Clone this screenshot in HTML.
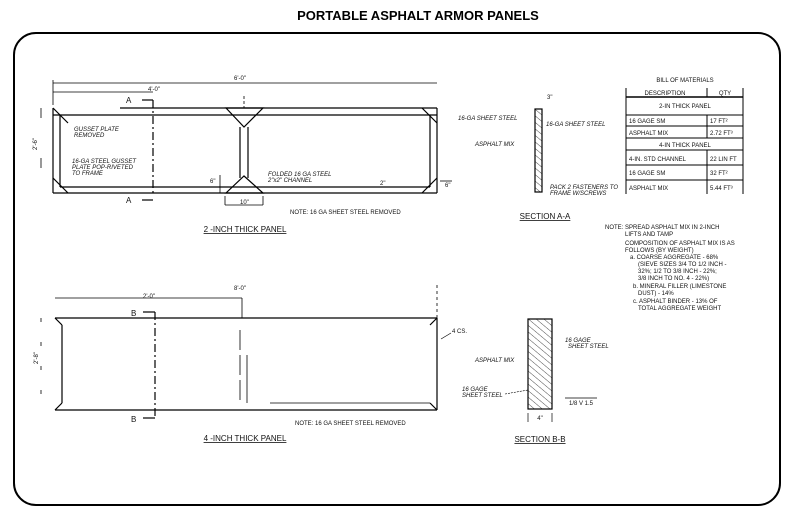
<!DOCTYPE html>
<html><head><meta charset="utf-8"><style>
html,body{margin:0;padding:0;background:#fff;}
svg{display:block;font-family:"Liberation Sans",sans-serif;}
.s{font-size:6px;fill:#111}
.i{font-size:6px;font-style:italic;fill:#111}
.l{font-size:8px;fill:#111}
</style></head><body>
<svg width="793" height="531" viewBox="0 0 793 531" xmlns="http://www.w3.org/2000/svg">
<defs>
<pattern id="h" width="5" height="5" patternUnits="userSpaceOnUse" patternTransform="rotate(-50)">
<line x1="0" y1="0" x2="0" y2="5" stroke="#000" stroke-width="0.7"/></pattern>
</defs>
<text x="418" y="20" text-anchor="middle" font-size="13" font-weight="bold">PORTABLE ASPHALT ARMOR PANELS</text>
<rect x="14" y="33" width="766" height="472" rx="22" fill="none" stroke="#000" stroke-width="2"/>

<!-- Top panel -->
<g stroke="#000" fill="none" stroke-width="1.2">
<line x1="120" y1="108" x2="437" y2="108"/>
<line x1="53" y1="115" x2="437" y2="115"/>
<line x1="53" y1="193" x2="437" y2="193"/>
<line x1="53" y1="108" x2="53" y2="193"/>
<line x1="60" y1="115" x2="60" y2="187"/>
<line x1="437" y1="108" x2="437" y2="193"/>
<line x1="430" y1="115" x2="430" y2="187"/>
<line x1="60" y1="187" x2="430" y2="187"/>
<line x1="240" y1="127" x2="240" y2="178"/>
<line x1="248" y1="127" x2="248" y2="178"/>
<polygon points="226,108 263,108 244,127"/>
<polygon points="226,193 263,193 244,176"/>
<line x1="53" y1="108" x2="68" y2="123"/>
<line x1="53" y1="178" x2="68" y2="193"/>
<line x1="422" y1="108" x2="437" y2="123"/>
<line x1="437" y1="178" x2="422" y2="193"/>
<line x1="153" y1="100" x2="153" y2="196" stroke-dasharray="8,3,2,3"/>
<line x1="142" y1="100" x2="153" y2="100"/>
<line x1="142" y1="200" x2="153" y2="200"/>
<line x1="53" y1="83" x2="437" y2="83" stroke-width="0.8"/>
<line x1="53" y1="92" x2="153" y2="92" stroke-width="0.8"/>
<line x1="53" y1="80" x2="53" y2="105" stroke-width="0.8"/>
<line x1="244" y1="96" x2="244" y2="108" stroke-dasharray="3,2" stroke-width="0.8"/>
<line x1="41" y1="108" x2="41" y2="193" stroke-width="0.8" stroke-dasharray="10,40"/>
<line x1="225" y1="196" x2="225" y2="205" stroke-width="0.8"/>
<line x1="263" y1="196" x2="263" y2="205" stroke-width="0.8"/>
<line x1="225" y1="205" x2="263" y2="205" stroke-width="0.8"/>
<line x1="220" y1="175" x2="220" y2="193" stroke-width="0.8"/>
<line x1="440" y1="181" x2="452" y2="181" stroke-width="0.8"/>
</g>
<text x="126" y="103" class="l">A</text><text x="126" y="203" class="l">A</text>
<text x="240" y="80" class="s" text-anchor="middle">6'-0"</text>
<text x="148" y="91" class="s">4'-0"</text>
<text x="37" y="150" class="s" transform="rotate(-90 37 150)">2'-6"</text>
<text x="74" y="131" class="i">GUSSET PLATE</text><text x="74" y="137" class="i">REMOVED</text>
<text x="72" y="163" class="i">16-GA STEEL GUSSET</text><text x="72" y="169" class="i">PLATE POP-RIVETED</text><text x="72" y="175" class="i">TO FRAME</text>
<text x="210" y="183" class="s">6"</text><text x="240" y="204" class="s">10"</text>
<text x="268" y="176" class="i">FOLDED 16 GA STEEL</text><text x="268" y="182" class="i">2"x2" CHANNEL</text>
<text x="380" y="185" class="s">2"</text><text x="445" y="187" class="s">6"</text>
<text x="290" y="214" class="s">NOTE: 16 GA SHEET STEEL REMOVED</text>
<text x="245" y="232" class="l" text-anchor="middle" text-decoration="underline">2 -INCH THICK PANEL</text>

<!-- Section A-A -->
<rect x="535" y="109" width="7" height="83" fill="url(#h)" stroke="#000" stroke-width="1.2"/>
<text x="547" y="99" class="s">3"</text>
<text x="458" y="120" class="i">16-GA SHEET STEEL</text>
<text x="546" y="126" class="i">16-GA SHEET STEEL</text>
<text x="475" y="146" class="i">ASPHALT MIX</text>
<text x="550" y="189" class="i">PACK 2 FASTENERS TO</text><text x="550" y="195" class="i">FRAME W/SCREWS</text>
<text x="545" y="219" class="l" text-anchor="middle" text-decoration="underline">SECTION A-A</text>

<!-- Table -->
<g stroke="#000" stroke-width="1" fill="none">
<line x1="626" y1="88" x2="626" y2="194"/><line x1="743" y1="88" x2="743" y2="194"/>
<line x1="707" y1="88" x2="707" y2="97"/><line x1="707" y1="115" x2="707" y2="138"/><line x1="707" y1="150" x2="707" y2="194"/>
<line x1="626" y1="97" x2="743" y2="97" stroke-width="1.6"/>
<line x1="626" y1="115" x2="743" y2="115"/><line x1="626" y1="126" x2="743" y2="126"/>
<line x1="626" y1="138" x2="743" y2="138"/><line x1="626" y1="150" x2="743" y2="150"/>
<line x1="626" y1="165" x2="743" y2="165"/><line x1="626" y1="180" x2="743" y2="180"/>
</g>
<text x="685" y="82" class="s" text-anchor="middle">BILL OF MATERIALS</text>
<text x="665" y="95" class="s" text-anchor="middle">DESCRIPTION</text><text x="725" y="95" class="s" text-anchor="middle">QTY</text>
<text x="685" y="108" class="s" text-anchor="middle">2-IN THICK PANEL</text>
<text x="629" y="123" class="s">16 GAGE SM</text><text x="710" y="123" class="s">17 FT²</text>
<text x="629" y="135" class="s">ASPHALT MIX</text><text x="710" y="135" class="s">2.72 FT³</text>
<text x="685" y="147" class="s" text-anchor="middle">4-IN THICK PANEL</text>
<text x="629" y="161" class="s">4-IN. STD CHANNEL</text><text x="710" y="161" class="s">22 LIN FT</text>
<text x="629" y="175" class="s">16 GAGE SM</text><text x="710" y="175" class="s">32 FT²</text>
<text x="629" y="190" class="s">ASPHALT MIX</text><text x="710" y="190" class="s">5.44 FT³</text>

<!-- Notes -->
<g class="s">
<text x="605" y="229">NOTE: SPREAD ASPHALT MIX IN 2-INCH</text>
<text x="625" y="236">LIFTS AND TAMP</text>
<text x="625" y="245">COMPOSITION OF ASPHALT MIX IS AS</text>
<text x="625" y="252">FOLLOWS (BY WEIGHT)</text>
<text x="630" y="259">a. COARSE AGGREGATE - 68%</text>
<text x="638" y="266">(SIEVE SIZES 3/4 TO 1/2 INCH -</text>
<text x="638" y="273">32%; 1/2 TO 3/8 INCH - 22%;</text>
<text x="638" y="280">3/8 INCH TO NO. 4 - 22%)</text>
<text x="633" y="288">b. MINERAL FILLER (LIMESTONE</text>
<text x="638" y="295">DUST) - 14%</text>
<text x="633" y="303">c. ASPHALT BINDER - 13% OF</text>
<text x="638" y="310">TOTAL AGGREGATE WEIGHT</text>
</g>

<!-- Bottom panel -->
<g stroke="#000" fill="none" stroke-width="1.2">
<line x1="55" y1="318" x2="437" y2="318"/>
<line x1="55" y1="410" x2="437" y2="410"/>
<line x1="62" y1="325" x2="62" y2="403"/>
<line x1="55" y1="318" x2="62" y2="325"/><line x1="55" y1="410" x2="62" y2="403"/>
<line x1="437" y1="318" x2="437" y2="410"/>
<line x1="437" y1="318" x2="430" y2="325"/><line x1="437" y1="410" x2="430" y2="403"/>
<line x1="270" y1="403" x2="430" y2="403" stroke-width="0.8"/>
<line x1="155" y1="312" x2="155" y2="418" stroke-dasharray="8,3,2,3"/>
<line x1="143" y1="312" x2="155" y2="312"/><line x1="143" y1="418" x2="155" y2="418"/>
<line x1="240" y1="330" x2="240" y2="403" stroke-dasharray="20,5" stroke-width="0.8"/>
<line x1="247" y1="355" x2="247" y2="403" stroke-width="0.8"/>
<line x1="55" y1="298" x2="242" y2="298" stroke-width="0.8"/>
<line x1="242" y1="298" x2="242" y2="318" stroke-width="0.8"/>
<line x1="41" y1="318" x2="41" y2="410" stroke-width="0.8" stroke-dasharray="4,20"/>
<line x1="437" y1="285" x2="437" y2="318" stroke-width="0.8" stroke-dasharray="3,3"/>
</g>
<text x="131" y="316" class="l">B</text><text x="131" y="422" class="l">B</text>
<text x="240" y="290" class="s" text-anchor="middle">8'-0"</text>
<text x="143" y="298" class="s">2'-0"</text>
<text x="38" y="364" class="s" transform="rotate(-90 38 364)">2'-8"</text>
<text x="452" y="333" class="s">4 CS.</text>
<line x1="441" y1="339" x2="451" y2="333" stroke="#000" stroke-width="0.6"/>
<text x="295" y="425" class="s">NOTE: 16 GA SHEET STEEL REMOVED</text>
<text x="245" y="441" class="l" text-anchor="middle" text-decoration="underline">4 -INCH THICK PANEL</text>

<!-- Section B-B -->
<rect x="528" y="319" width="24" height="90" fill="url(#h)" stroke="#000" stroke-width="1.2"/>
<line x1="528" y1="413" x2="528" y2="422" stroke="#000" stroke-width="0.7"/>
<line x1="552" y1="413" x2="552" y2="422" stroke="#000" stroke-width="0.7"/>
<text x="540" y="420" class="s" text-anchor="middle">4"</text>
<text x="565" y="342" class="i">16 GAGE</text><text x="568" y="348" class="i">SHEET STEEL</text>
<text x="475" y="362" class="i">ASPHALT MIX</text>
<text x="462" y="391" class="i">16 GAGE</text><text x="462" y="397" class="i">SHEET STEEL</text>
<line x1="505" y1="394" x2="528" y2="390" stroke="#000" stroke-width="0.6" stroke-dasharray="2,1"/>
<line x1="565" y1="398" x2="597" y2="398" stroke="#000" stroke-width="0.7"/>
<text x="569" y="405" class="s">1/8 V 1.5</text>
<text x="540" y="442" class="l" text-anchor="middle" text-decoration="underline">SECTION B-B</text>
</svg>
</body></html>
